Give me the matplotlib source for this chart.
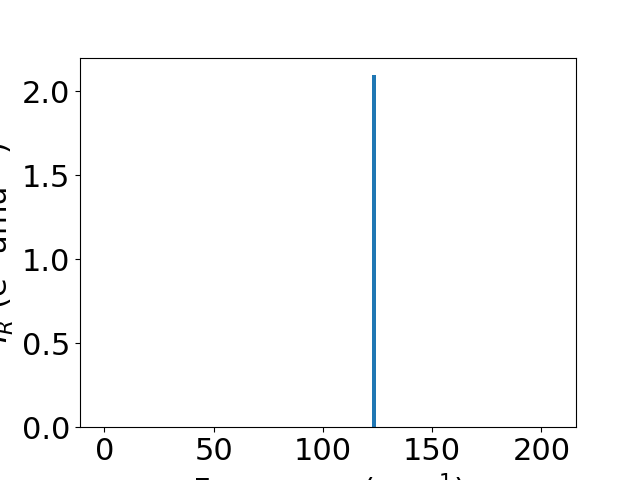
import matplotlib
matplotlib.use("Agg")
import matplotlib.pyplot as plt

frequencies = [123.4]
intensities = [2.095]

plt.rcParams['font.size'] = 22
fig, ax = plt.subplots(figsize=(6.4, 4.8), dpi=100)
ax.bar(frequencies, intensities, width=1.8, color='#1f77b4')
ax.set_xlim(-11.2, 215.8)
ax.set_ylim(0, 2.2)
ax.set_xticks([0, 50, 100, 150, 200])
ax.set_yticks([0.0, 0.5, 1.0, 1.5, 2.0])
ax.set_xlabel(r'Frequency (cm$^{-1}$)')
ax.set_ylabel(r'$I_R$ (e$^2$ amu$^{-1}$)')
fig.savefig('out.png', dpi=100)
